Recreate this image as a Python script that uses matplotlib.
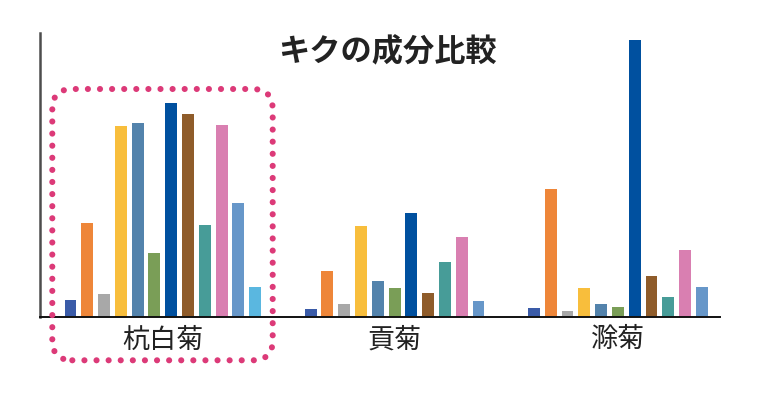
import matplotlib
matplotlib.use("Agg")
import matplotlib.pyplot as plt
from matplotlib.patches import FancyBboxPatch
from matplotlib.transforms import IdentityTransform
import numpy as np

plt.rcParams['font.family'] = ['Noto Sans CJK JP', 'DejaVu Sans']

# --- data (arbitrary units) ---
TITLE = "キクの成分比較"
GROUPS = ["杭白菊", "貢菊", "滁菊"]
HANGBAIJU = [16.7, 93.4, 22.4, 191.0, 194.0, 63.4, 213.4, 203.0, 91.4, 191.7, 113.4, 30.0]
GONGJU = [7.4, 46.0, 12.7, 90.4, 35.7, 29.0, 103.4, 23.7, 55.0, 80.0, 16.0]
CHUJU = [8.7, 127.7, 5.7, 28.4, 12.4, 9.7, 276.4, 40.4, 20.0, 66.4, 29.4]
COLORS = ["#3a5ba8", "#ee8639", "#a8a8a8", "#f8be3c", "#5383ac", "#7a9e57",
          "#00509f", "#8f5c2a", "#479c98", "#d97fb1", "#6797c9", "#5ab7e0"]
# ---------------------

GROUP_GAP = 3.3
BAR_W = 0.71

fig = plt.figure(figsize=(7.6, 4.04), dpi=100)
ax = fig.add_axes([40 / 760, 87.3 / 404, 680 / 760, 284 / 404])

centers = []
offset = 0.0
for vals in (HANGBAIJU, GONGJU, CHUJU):
    xs = offset + np.arange(len(vals))
    ax.bar(xs, vals, width=BAR_W, color=COLORS[:len(vals)], edgecolor="none")
    centers.append(xs.mean())
    offset = xs[-1] + GROUP_GAP

ax.set_xlim(-1.815, 38.68)
ax.set_ylim(0, 284)
ax.set_xticks(centers)
ax.set_xticklabels(GROUPS, fontsize=19.5, color="#222222")
ax.tick_params(axis="x", length=0, pad=7)
ax.set_yticks([])
for s in ("top", "right"):
    ax.spines[s].set_visible(False)
ax.spines["left"].set_color("#4d4d4d")
ax.spines["left"].set_linewidth(1.8)
ax.spines["bottom"].set_color("#111111")
ax.spines["bottom"].set_linewidth(1.4)

fig.text(387.5 / 760, 1 - 52 / 404, TITLE, ha="center", va="center",
         fontsize=22.5, fontweight="bold", color="#222222")

# pink dotted highlight round 杭白菊 (pixel coords)
box = FancyBboxPatch((52.3, 404 - 360.3), 220.4, 271.3,
                     boxstyle="round,pad=0,rounding_size=20",
                     transform=IdentityTransform(), fill=False,
                     edgecolor="#dc3a78", linewidth=4.4)
box.set_linestyle((0, (0.01, 1.97)))
box.set_capstyle("round")
fig.add_artist(box)

fig.savefig("out.png", dpi=100)
